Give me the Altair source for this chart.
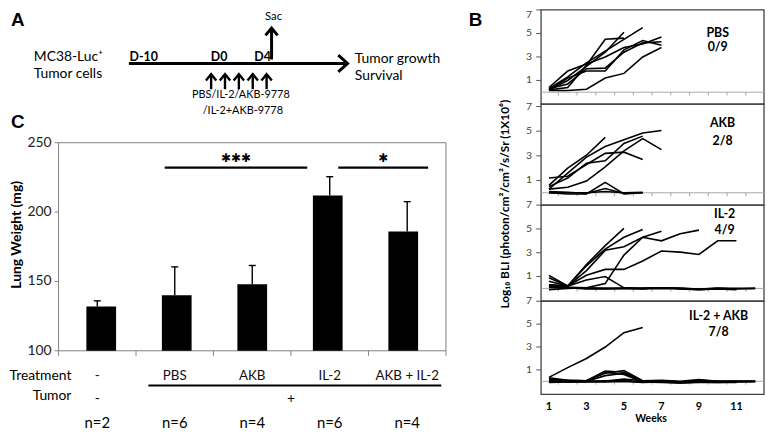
import altair as alt
import pandas as pd

# ---------------- data ----------------
# Panel C: lung weight (mg)
groups = ["-", "PBS", "AKB", "IL-2", "AKB + IL-2"]
lung_weight = [132, 140, 148, 212, 186]
lung_weight_upper = [136, 160.5, 161.5, 225.5, 207.5]
group_n = ["n=2", "n=6", "n=4", "n=6", "n=4"]
lung_ticks = [100, 150, 200, 250]
sig_start = [0.87, 3.11]
sig_end = [2.71, 4.27]
sig_level = [232, 232]
sig_marks = ["✱✱✱", "✱"]

# Panel A: schedule
injection_days = [0, 1, 2, 3, 4]
timeline_days = [-10, 0, 4]
timeline_labels = ["D-10", "D0", "D4"]

# Panel B: log10 BLI per mouse, weeks 1..n
bli_week_ticks = [1, 3, 5, 7, 9, 11]
bli_value_ticks = [1, 3, 5, 7]
pbs_mice = [
    [0.3, 1.3, 2.5, 3.5, 4.5, 5.5],
    [0.2, 0.4, 2.3, 4.5, 4.6],
    [0.2, 1.0, 2.2, 3.4, 5.1],
    [0.4, 1.8, 2.4, 3.0, 3.8, 4.1, 4.7],
    [0.2, 1.2, 1.8, 1.8, 3.6, 4.4, 4.0],
    [0.3, 0.7, 2.0, 2.05, 3.4, 4.2, 4.3],
    [0.15, 0.15, 0.25, 1.2, 1.6, 3.0, 3.8],
]
akb_mice = [
    [0.6, 2.0, 3.05, 4.5],
    [0.3, 1.6, 2.9, 3.75, 4.3, 4.85, 5.05],
    [0.3, 0.45, 0.95, 2.1, 3.4, 4.4, 3.5],
    [1.2, 1.35, 2.3, 3.2, 3.3, 2.7],
    [0.5, 1.2, 2.4, 2.6, 4.0, 4.6],
    [0.0, -0.1, -0.1, 0.85, -0.1, 0.0],
    [0.1, 0.05, -0.05, 0.35, -0.05, 0.0],
    [0.0, 0.0, 0.0, 0.1, 0.0, 0.05],
]
il2_mice = [
    [0.6, 0.2, 2.0, 3.6, 5.05],
    [0.3, 0.2, 1.9, 3.3, 4.3, 4.95],
    [0.9, 0.2, 1.5, 3.2, 3.5, 4.3, 4.8],
    [0.2, 0.1, 0.05, 0.4, 2.8, 4.3, 4.0, 4.6, 4.9],
    [0.3, 0.2, 1.1, 1.6, 1.6, 2.3, 3.15, 3.05, 2.85, 4.0, 4.0],
    [1.1, 0.2, 0.7, 1.0, 0.05, 0.0, 0.05, 0.0, -0.05, 0.0, -0.05],
    [0.1, 0.05, -0.05, -0.05, 0.0, 0.0, 0.05, 0.0, -0.1, 0.0, 0.0, 0.0],
    [0.2, 0.1, 0.0, 0.0, 0.0, -0.05, 0.0, -0.05, -0.1, -0.05, -0.1],
    [-0.1, 0.0, 0.05, 0.0, 0.0, 0.0, 0.05, 0.0, -0.05, 0.0, -0.05, 0.0],
]
combo_mice = [
    [0.35, 1.2, 2.0, 3.0, 4.25, 4.7],
    [0.3, 0.1, 0.05, 0.9, 0.8, 0.0, 0.05, -0.1, 0.1, 0.0, 0.0, 0.0],
    [0.2, 0.05, 0.05, 0.7, 0.95, 0.05, 0.0, -0.05, 0.0, -0.05, 0.0],
    [0.1, 0.1, 0.05, 0.8, 0.6, -0.05, 0.0, -0.1, 0.05, 0.0, -0.05, 0.0],
    [0.0, 0.0, 0.0, 0.0, 0.2, 0.05, 0.1, 0.0, 0.15, 0.0, 0.0, 0.0],
    [-0.1, -0.05, -0.05, -0.05, 0.0, -0.1, -0.05, -0.15, -0.1, -0.1, -0.05],
    [0.2, 0.0, 0.0, 0.5, 0.7, 0.0, 0.0, -0.05, 0.0, -0.05, 0.0, 0.0],
    [0.05, -0.05, 0.0, 0.05, 0.1, -0.05, -0.1, -0.15, -0.05, -0.1, -0.1],
]
bli_groups = [
    ("PBS", "0/9", pbs_mice),
    ("AKB", "2/8", akb_mice),
    ("IL-2", "4/9", il2_mice),
    ("IL-2 + AKB", "7/8", combo_mice),
]

# ---------------- layout / style ----------------
W, H = 764, 424
FONT = "Lato"
one = pd.DataFrame({"k": [0]})
layers = []


def S(domain, rng):
    return alt.Scale(domain=domain, range=rng, zero=False, nice=False)


def text(s, x, y, size=12, bold=False, align="center", angle=None,
         color="black", font=FONT, baseline="middle"):
    kw = dict(text=s, fontSize=size, fontWeight="bold" if bold else "normal",
              align=align, baseline=baseline, color=color, font=font)
    if angle is not None:
        kw["angle"] = angle
    return alt.Chart(one).mark_text(**kw).encode(x=alt.value(x), y=alt.value(y))


def seg(x, y, x2, y2, width=2, color="black"):
    return alt.Chart(one).mark_rule(color=color, strokeWidth=width).encode(
        x=alt.value(x), y=alt.value(y), x2=alt.value(x2), y2=alt.value(y2))


CHEV_UP = "M-1,0.6L0,-0.6L1,0.6"
CHEV_RIGHT = "M-0.55,-1L0.55,0L-0.55,1"


def chevron(x, y, shape, size, width=2.4):
    return alt.Chart(one).mark_point(shape=shape, size=size, filled=False, color="black",
                                     strokeWidth=width, opacity=1, strokeJoin="miter").encode(
        x=alt.value(x), y=alt.value(y))


# ================= Panel A =================
layers.append(text("A", 3, 1, size=19, bold=True, align="left", font="Liberation Sans",
                   baseline="top"))
layers.append(text("MC38-Luc⁺", 26, 48, size=14, align="left"))
layers.append(text("Tumor cells", 26, 65, size=14, align="left"))
layers.append(text("Tumor growth", 350, 50, size=14, align="left"))
layers.append(text("Survival", 350, 67, size=14, align="left"))
layers.append(seg(122, 54, 340, 54, width=3))
layers.append(chevron(338, 54, CHEV_RIGHT, 289, width=3))

label_scale = S([-10, 0, 4], [137, 213, 257])
day_scale = S([0, 4], [205, 261])
tl = pd.DataFrame({"day": timeline_days, "label": timeline_labels})
layers.append(alt.Chart(tl).mark_text(fontSize=12.5, fontWeight="bold", font=FONT).encode(
    x=alt.X("day:Q", scale=label_scale, axis=None), y=alt.value(48), text="label:N"))
inj = pd.DataFrame({"day": injection_days})
layers.append(alt.Chart(inj).mark_rule(color="black", strokeWidth=2.4).encode(
    x=alt.X("day:Q", scale=day_scale, axis=None), y=alt.value(65), y2=alt.value(80)))
layers.append(alt.Chart(inj).mark_point(shape=CHEV_UP, size=110, filled=False, color="black",
                                        strokeWidth=2.4, opacity=1).encode(
    x=alt.X("day:Q", scale=day_scale, axis=None), y=alt.value(68)))
layers.append(seg(266, 19, 266, 50, width=3))
layers.append(chevron(266, 22, CHEV_UP, 150, width=3))
layers.append(text("Sac", 268, 7, size=11.5))
layers.append(text("PBS/IL-2/AKB-9778", 235, 86, size=11))
layers.append(text("/IL-2+AKB-9778", 237, 102, size=11))

# ================= Panel C =================
CXD, CXR = [-0.5, 4.5], [51, 442]
CYD, CYR = [100, 250], [344, 134]
cx = lambda f: alt.X(f, type="quantitative", scale=S(CXD, CXR), axis=None)
cy = lambda f: alt.Y(f, type="quantitative", scale=S(CYD, CYR), axis=None)

layers.append(text("C", 3, 113, size=19, bold=True, align="left", font="Liberation Sans"))
frame_c = pd.DataFrame({"x0": [CXD[0]], "x1": [CXD[1]], "y0": [CYD[0]], "y1": [CYD[1]]})
layers.append(alt.Chart(frame_c).mark_rect(fillOpacity=0, stroke="#7f7f7f", strokeWidth=1).encode(
    x=cx("x0"), x2="x1", y=cy("y0"), y2="y1"))
cticks = pd.DataFrame({"b": [-0.5, 0.5, 1.5, 2.5, 3.5, 4.5]})
layers.append(alt.Chart(cticks).transform_calculate(lo="96.4", hi="100").mark_rule(
    color="#7f7f7f", strokeWidth=1).encode(x=cx("b"), y=cy("lo"), y2="hi"))
yt = pd.DataFrame({"v": lung_ticks})
layers.append(alt.Chart(yt).transform_calculate(a="-0.551", b="-0.5").mark_rule(
    color="#7f7f7f", strokeWidth=1).encode(x=cx("a"), x2="b", y=cy("v")))
layers.append(alt.Chart(yt).transform_calculate(a="-0.5").mark_text(
    align="right", dx=-7, fontSize=14, font=FONT, color="#222").encode(
    x=cx("a"), y=cy("v"), text="v:Q"))
layers.append(text("Lung Weight (mg)", 9, 227, size=14, bold=True, angle=270))

bars = pd.DataFrame({"i": list(range(len(groups))), "g": groups, "m": lung_weight,
                     "u": lung_weight_upper, "n": group_n})
layers.append(alt.Chart(bars).mark_bar(size=30, color="black").encode(
    x=cx("i"), y=cy("m"), y2=alt.datum(100)))
layers.append(alt.Chart(bars).mark_rule(color="black", strokeWidth=1.4).encode(
    x=cx("i"), y=cy("m"), y2="u"))
layers.append(alt.Chart(bars).transform_calculate(a="datum.i - 0.045", b="datum.i + 0.045").mark_rule(
    color="black", strokeWidth=1.4).encode(x=cx("a"), x2="b", y=cy("u")))

sig = pd.DataFrame({"s": sig_start, "e": sig_end, "y": sig_level, "t": sig_marks})
layers.append(alt.Chart(sig).mark_rule(color="black", strokeWidth=2.2).encode(
    x=cx("s"), x2="e", y=cy("y")))
layers.append(alt.Chart(sig).transform_calculate(c="(datum.s + datum.e) / 2").mark_text(
    fontSize=12, font="DejaVu Sans", dy=-10).encode(x=cx("c"), y=cy("y"), text="t:N"))

layers.append(text("Treatment", 64, 369, size=14, align="right"))
layers.append(alt.Chart(bars).mark_text(fontSize=13.5, font=FONT, color="#111").encode(
    x=cx("i"), y=alt.value(369), text="g:N"))
treated = pd.DataFrame({"s": [0.66], "e": [4.44]})
layers.append(alt.Chart(treated).mark_rule(color="black", strokeWidth=2).encode(
    x=cx("s"), x2="e", y=alt.value(379)))
layers.append(text("Tumor", 64, 390, size=14, align="right"))
tumor = pd.DataFrame({"p": [0, 2.5], "t": ["-", "+"]})
layers.append(alt.Chart(tumor).mark_text(fontSize=14, font=FONT).encode(
    x=cx("p"), y=alt.value(393), text="t:N"))
layers.append(alt.Chart(bars).mark_text(fontSize=15, font=FONT).encode(
    x=cx("i"), y=alt.value(417), text="n:N"))

# ================= Panel B =================
BXD, BXR = [0.579, 12.47], [538, 763]
panel_y = [
    ([-1.01, 7.0], [95, 0]),
    ([-1.0, 7.2], [197, 95]),
    ([-1.08, 7.0], [294, 197]),
    ([-1.14, 7.0], [388, 294]),
]
label_pos = [(10.0, 5.06, 3.88), (10.26, 5.65, 4.2), (10.37, 6.25, 4.9), (10.05, 5.7, 4.3)]

layers.append(text("B", 465, 1, size=19, bold=True, align="left", font="Liberation Sans",
                   baseline="top"))
layers.append(text("Log₁₀ BLI (photon/cm²/cm²/s/Sr (1X10⁶)", 502, 196, size=12, bold=True,
                   angle=270))

for k, (name, frac, mice) in enumerate(bli_groups):
    yd, yr = panel_y[k]
    bx = lambda f: alt.X(f, type="quantitative", scale=S(BXD, BXR), axis=None)
    by = lambda f, yd=yd, yr=yr: alt.Y(f, type="quantitative", scale=S(yd, yr), axis=None)
    fr = pd.DataFrame({"x0": [BXD[0]], "x1": [BXD[1]], "y0": [yd[0]], "y1": [yd[1]]})
    layers.append(alt.Chart(fr).mark_rect(fillOpacity=0, stroke="#404040", strokeWidth=1.3).encode(
        x=bx("x0"), x2="x1", y=by("y0"), y2="y1"))
    layers.append(alt.Chart(fr).transform_calculate(z="0").mark_rule(
        color="#a6a6a6", strokeWidth=1).encode(x=bx("x0"), x2="x1", y=by("z")))
    wt = pd.DataFrame({"w": [w + 0.5 for w in range(1, 12)]})
    layers.append(alt.Chart(wt).transform_calculate(z="0", d="-0.28").mark_rule(
        color="#a6a6a6", strokeWidth=1).encode(x=bx("w"), y=by("z"), y2="d"))
    vt = pd.DataFrame({"v": bli_value_ticks})
    layers.append(alt.Chart(vt).transform_calculate(a=str(BXD[0] - 0.26), b=str(BXD[0])).mark_rule(
        color="#555", strokeWidth=1).encode(x=bx("a"), x2="b", y=by("v")))
    top_shift = "6.6" if k == 0 else "7"
    layers.append(alt.Chart(vt).transform_calculate(
        a=str(BXD[0]), p="datum.v == 7 ? " + top_shift + " : datum.v").mark_text(
        align="right", dx=-9, fontSize=10.5, font=FONT, color="#444").encode(
        x=bx("a"), y=by("p"), text="v:Q"))
    rows = [{"mouse": j, "week": w + 1, "val": v}
            for j, series in enumerate(mice) for w, v in enumerate(series)]
    ld = pd.DataFrame(rows)
    layers.append(alt.Chart(ld).mark_line(color="black", strokeWidth=1.6).encode(
        x=bx("week"), y=by("val"), detail="mouse:N"))
    lx, ly1, ly2 = label_pos[k]
    lab = pd.DataFrame({"x": [lx, lx], "y": [ly1, ly2], "t": [name, frac]})
    layers.append(alt.Chart(lab).mark_text(fontSize=12.5, fontWeight="bold", font=FONT).encode(
        x=bx("x"), y=by("y"), text="t:N"))
    if k == 3:
        wl = pd.DataFrame({"w": bli_week_ticks})
        layers.append(alt.Chart(wl).mark_text(fontSize=11, fontWeight="bold", font=FONT).encode(
            x=bx("w"), y=alt.value(401), text="w:Q"))
        layers.append(text("Weeks", 649, 413, size=10.5, bold=True))

chart = alt.layer(*layers).resolve_scale(x="independent", y="independent").properties(
    width=W, height=H, autosize=alt.AutoSizeParams(type="none"), padding=0
).configure_view(strokeWidth=0)

chart.save("out.html", embed_options={"renderer": "svg", "actions": False})
